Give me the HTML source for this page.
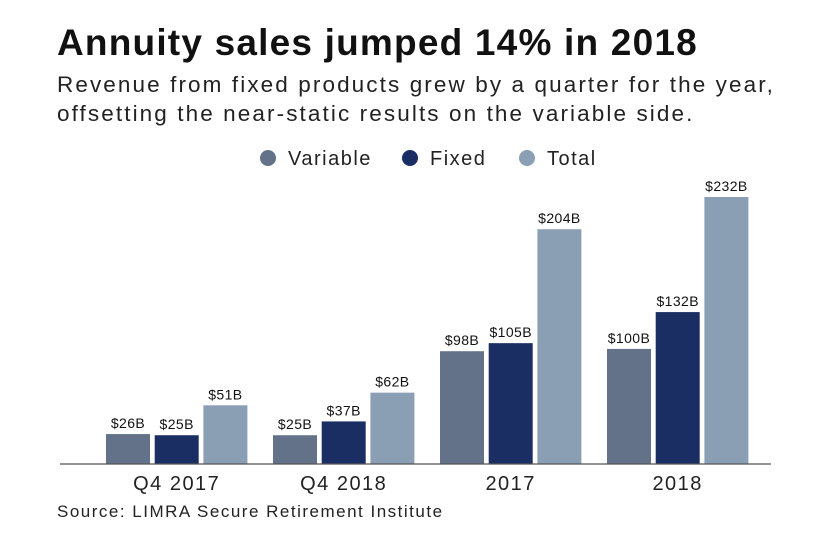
<!DOCTYPE html>
<html><head><meta charset="utf-8"><style>
body{margin:0;background:#fff;font-family:"Liberation Sans",sans-serif;}
#wrap{position:relative;width:840px;height:547px;overflow:hidden;}
h1{position:absolute;left:57px;top:22px;margin:0;font-size:37px;font-weight:bold;color:#111;letter-spacing:1.2px;white-space:nowrap;}
.sub{position:absolute;left:57px;top:70px;font-size:22.5px;line-height:29px;color:#222;letter-spacing:2.1px;white-space:nowrap;}
.src{position:absolute;left:57px;top:502px;font-size:17px;color:#222;letter-spacing:1.5px;white-space:nowrap;}
</style></head><body>
<div id="wrap">
<h1>Annuity sales jumped 14% in 2018</h1>
<div class="sub">Revenue from fixed products grew by a quarter for the year,<br>offsetting the near-static results on the variable side.</div>
<svg id="chart" width="840" height="547" style="position:absolute;left:0;top:0"></svg>
<div class="src">Source: LIMRA Secure Retirement Institute</div>
</div>
<script>
const categories=["Q4 2017","Q4 2018","2017","2018"];
const seriesNames=["Variable","Fixed","Total"];
const variableVals=[26,25,98,100];
const fixedVals=[25,37,105,132];
const totalVals=[51,62,204,232];
const colors=["#637288","#1b2e63","#8a9fb4"];
const NS="http://www.w3.org/2000/svg";
const svg=document.getElementById("chart");
const baseY=464,pxPer=267/232;
const y=v=>baseY-v*pxPer;
const groupX=i=>106+i*167;
const barW=44,step=48.7;
function mk(t,a){const e=document.createElementNS(NS,t);for(const k in a)e.setAttribute(k,a[k]);svg.appendChild(e);return e;}
const all=[variableVals,fixedVals,totalVals];
categories.forEach((c,i)=>{
  all.forEach((arr,s)=>{
    const x=groupX(i)+s*step;
    const r=mk("rect",{x:x,y:y(arr[i]),width:barW,height:arr[i]*pxPer,fill:colors[s]});
    
    
    const t=mk("text",{x:x+barW/2,y:y(arr[i])-6,"text-anchor":"middle","font-size":"14",fill:"#111","letter-spacing":"0.4"});
    t.textContent="$"+arr[i]+"B";
    
    
  });
  const l=mk("text",{x:groupX(i)+step+barW/2,y:490,"text-anchor":"middle","font-size":"20",fill:"#222","letter-spacing":"1.5"});
  l.textContent=c;
  
  
});
const ax=mk("line",{x1:60,x2:771,y1:baseY,y2:baseY,stroke:"#555","stroke-width":1.2});


const legX=[268,410,527];
seriesNames.forEach((n,s)=>{
  const c=mk("circle",{cx:legX[s],cy:158,r:8,fill:colors[s]});
  
  
  const t=mk("text",{x:legX[s]+20,y:165,"font-size":"20",fill:"#222","letter-spacing":"1.5"});
  t.textContent=n;
  
  
});
</script>
</body></html>
